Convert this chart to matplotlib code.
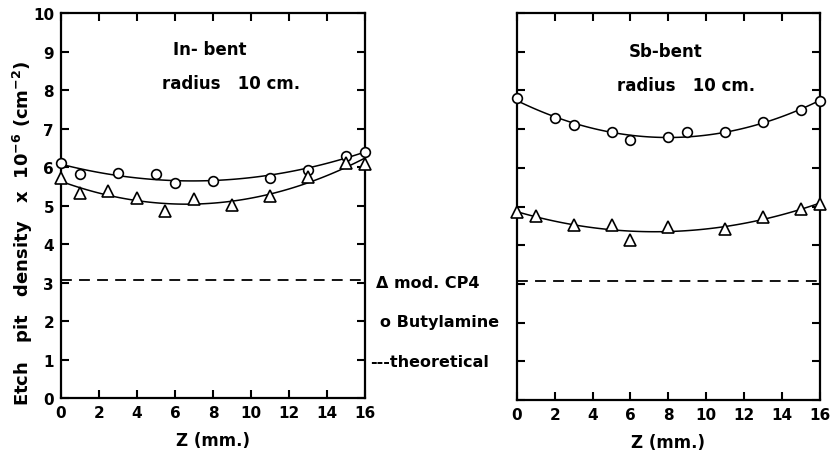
import numpy as np
import matplotlib.pyplot as plt

# In-bent data
z_in_bu = [0, 1, 3, 5, 6, 8, 11, 13, 15, 16]
bu_in = [6.11, 5.83, 5.85, 5.83, 5.59, 5.64, 5.73, 5.93, 6.30, 6.40]
z_in_cp = [0, 1, 2.5, 4, 5.5, 7, 9, 11, 13, 15, 16]
cp_in = [5.71, 5.32, 5.38, 5.19, 4.86, 5.16, 5.03, 5.25, 5.75, 6.10, 6.09]

# Sb-bent data
z_sb_bu = [0, 2, 3, 5, 6, 8, 9, 11, 13, 15, 16]
bu_sb = [7.81, 7.30, 7.10, 6.93, 6.72, 6.80, 6.93, 6.92, 7.19, 7.49, 7.73]
z_sb_cp = [0, 1, 3, 5, 6, 8, 11, 13, 15, 16]
cp_sb = [4.85, 4.76, 4.53, 4.53, 4.14, 4.47, 4.42, 4.72, 4.94, 5.07]

theoretical = 3.08

plt.rcParams['font.family'] = 'DejaVu Sans'
plt.rcParams['font.weight'] = 'bold'
plt.rcParams['axes.labelweight'] = 'bold'
plt.rcParams['mathtext.default'] = 'bf'
fig = plt.figure(figsize=(8.31, 4.52), dpi=100)
ax1 = fig.add_axes([0.0734, 0.1173, 0.3658, 0.851])
ax2 = fig.add_axes([0.6218, 0.1128, 0.365, 0.856])


def panel(ax, zb, bu, zc, cp, title, tx, ty, show_y):
    zz = np.linspace(0, 16, 100)
    # trend curves (2nd order fit)
    ax.plot(zz, np.polyval(np.polyfit(zb, bu, 2), zz), color='black', lw=1.1)
    ax.plot(zz, np.polyval(np.polyfit(zc, cp, 2), zz), color='black', lw=1.1)
    ax.plot(zb, bu, 'o', mfc='white', mec='black', ms=7, mew=1.2, clip_on=False, zorder=5)
    ax.plot(zc, cp, '^', mfc='white', mec='black', ms=8, mew=1.2, clip_on=False, zorder=5)
    ax.axhline(theoretical, color='black', lw=1.3, ls=(0, (6, 4)))
    ax.set_xlim(0, 16)
    ax.set_ylim(0, 10)
    ax.set_xticks(range(0, 17, 2))
    ax.set_yticks(range(0, 11))
    ax.tick_params(direction='in', length=6, width=1.5, top=True, right=True, labelsize=11, pad=5)
    if not show_y:
        ax.set_yticklabels([])
    for s in ax.spines.values():
        s.set_linewidth(1.6)
    ax.set_xlabel('Z (mm.)', fontsize=12, labelpad=8)
    ax.text(tx, ty, title, fontsize=12)
    ax.text(tx - 0.6, ty - 0.9, 'radius   10 cm.', fontsize=12)


panel(ax1, z_in_bu, bu_in, z_in_cp, cp_in, 'In- bent', 5.9, 8.95, True)
panel(ax2, z_sb_bu, bu_sb, z_sb_cp, cp_sb, 'Sb-bent', 5.9, 8.9, False)
ax1.set_ylabel('Etch   pit   density   x  10$^{-6}$ (cm$^{-2}$)', fontsize=13)
ax1.yaxis.set_label_coords(-0.085, 0.43)

# legend between panels
fig.text(0.452, 1 - 283 / 452, '\u0394 mod. CP4', fontsize=11.5, va='center')
fig.text(0.457, 1 - 322 / 452, 'o Butylamine', fontsize=11.5, va='center')
fig.text(0.445, 1 - 363 / 452, '---theoretical', fontsize=11.5, va='center')

plt.savefig('out.png', dpi=100)
